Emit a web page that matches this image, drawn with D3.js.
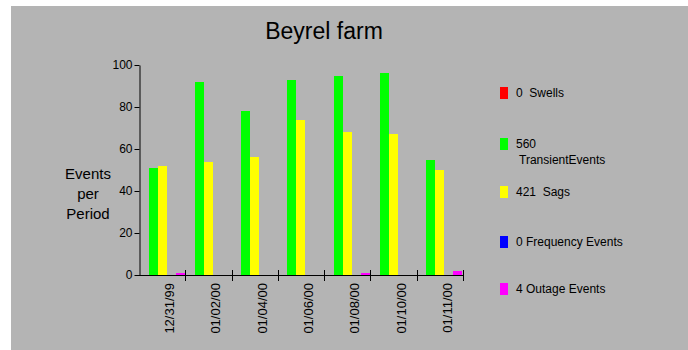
<!DOCTYPE html>
<html>
<head>
<meta charset="utf-8">
<script src="https://cdn.jsdelivr.net/npm/d3@7"></script>
<style>
html,body{margin:0;padding:0;background:#fff;}
svg{display:block;font-family:"Liberation Sans",Arial,sans-serif;}
text{white-space:pre;}
</style>
</head>
<body>
<svg id="chart" width="688" height="350"></svg>
<script>
const categories = ["12/31/99","01/02/00","01/04/00","01/06/00","01/08/00","01/10/00","01/11/00"];
const seriesNames = ["Swells","TransientEvents","Sags","Frequency Events","Outage Events"];
const seriesColors = ["#ff0000","#00ff00","#ffff00","#0000ff","#ff00ff"];
const swells = [0,0,0,0,0,0,0];
const transients = [51,92,78,93,95,96,55];
const sags = [52,54,56,74,68,67,50];
const frequency = [0,0,0,0,0,0,0];
const outages = [1,0,0,0,1,0,2];
const yTicks = [0,20,40,60,80,100];
const legendLabels = [["0  Swells"],["560","TransientEvents"],["421  Sags"],["0 Frequency Events"],["4 Outage Events"]];

const series = [swells, transients, sags, frequency, outages];
const svg = d3.select("#chart");
svg.append("rect").attr("x",11).attr("y",6).attr("width",677).attr("height",344).attr("fill","#b4b4b4");

const x0 = d3.scaleBand().domain(categories).range([139,463]).paddingInner(0).paddingOuter(0);
const x1 = d3.scaleBand().domain(d3.range(seriesNames.length)).range([0,x0.bandwidth()]).paddingOuter(0.05);
const y = d3.scaleLinear().domain([0,100]).range([275,65]);

// bars
categories.forEach((c,i)=>{
  series.forEach((s,j)=>{
    const v = s[i];
    if(v<=0) return;
    const top = Math.round(y(v));
    svg.append("rect")
      .attr("x", Math.round(x0(c)+x1(j)))
      .attr("y", top)
      .attr("width", Math.round(x1.bandwidth()))
      .attr("height", Math.round(y(0))-top)
      .attr("fill", seriesColors[j])
      .attr("shape-rendering","crispEdges");
  });
});

// y axis
const yAxis = d3.axisLeft(y).tickValues(yTicks).tickSize(5).tickSizeOuter(0).tickPadding(2);
const gy = svg.append("g").attr("transform","translate(139.5,0)").call(yAxis);
gy.selectAll("text").attr("font-size",12).attr("fill","#000").attr("font-family","Liberation Sans, Arial, sans-serif");
gy.selectAll("line,path").attr("stroke","#000");

// x axis
const gx = svg.append("g");
gx.append("line").attr("x1",139).attr("x2",463).attr("y1",y(0)+0.5).attr("y2",y(0)+0.5).attr("stroke","#000");
categories.forEach((c,i)=>{
  const xr = Math.round(x0(c)+x0.bandwidth())+0.5;
  gx.append("line").attr("x1",xr).attr("x2",xr).attr("y1",y(0)-5).attr("y2",y(0)+6).attr("stroke","#000");
  gx.append("text")
    .attr("transform",`translate(${x0(c)+x0.bandwidth()/2+12},${y(0)+8}) rotate(-90)`)
    .attr("text-anchor","end")
    .attr("font-size",13)
    .attr("fill","#000")
    .text(c);
});

// title
svg.append("text").attr("x",324).attr("y",39).attr("text-anchor","middle").attr("font-size",23).attr("fill","#000").text("Beyrel farm");

// y title
["Events","per","Period"].forEach((t,i)=>{
  svg.append("text").attr("x",88).attr("y",179+i*20).attr("text-anchor","middle").attr("font-size",15).attr("fill","#000").text(t);
});

// legend
const legendY = [93,144,192,242,289];
legendLabels.forEach((lines,j)=>{
  svg.append("rect").attr("x",500).attr("y",legendY[j]-6).attr("width",8).attr("height",12).attr("fill",seriesColors[j]);
  lines.forEach((t,k)=>{
    svg.append("text").attr("x",516 + (k>0?3:0)).attr("y",legendY[j]+4+k*16).attr("font-size",12).attr("fill","#000").text(t);
  });
});
</script>
</body>
</html>
